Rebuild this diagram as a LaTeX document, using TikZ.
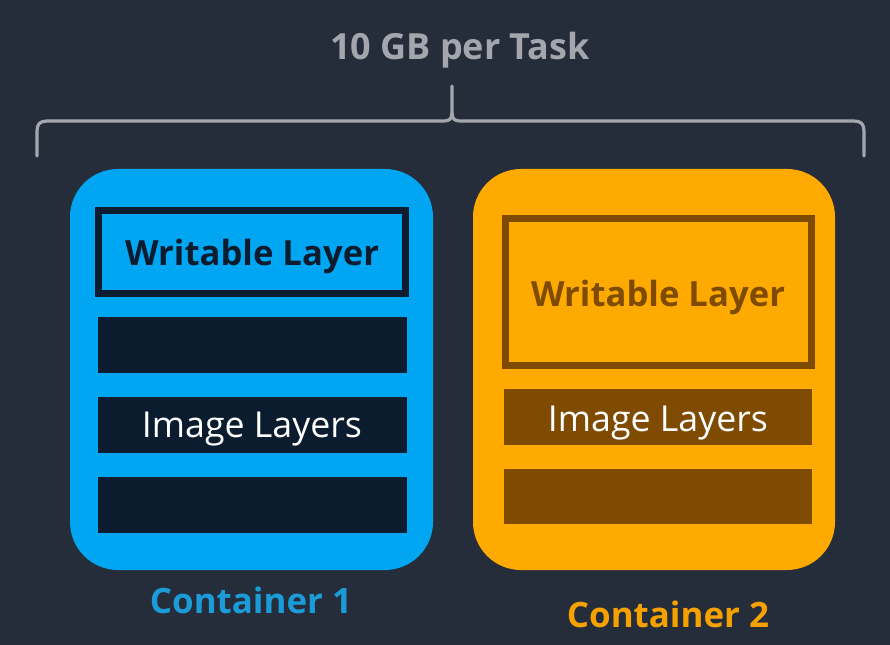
\documentclass[tikz,border=0pt]{standalone}
\usepackage{fontspec}
\setmainfont{Open Sans}
\definecolor{bgc}{HTML}{252D3B}
\definecolor{bluec}{HTML}{00A6F1}
\definecolor{bluelab}{HTML}{1B9BD8}
\definecolor{orangec}{HTML}{FFAA00}
\definecolor{orangelab}{HTML}{F5A200}
\definecolor{navyc}{HTML}{0C1C2F}
\definecolor{brownc}{HTML}{7E4B00}
\definecolor{greyc}{HTML}{A3A7AD}
\tikzset{
  px/.style={x=0.75pt,y=-0.75pt},
  contbox/.style={rounded corners=36pt},
  wtext/.style={font=\bfseries\fontsize{26}{30}\selectfont, anchor=base, inner sep=0pt},
  itext/.style={font=\fontsize{26.8}{30}\selectfont, anchor=base, inner sep=0pt, text=white},
  ltext/.style={font=\bfseries\fontsize{26.2}{30}\selectfont, anchor=base, inner sep=0pt},
  ttext/.style={font=\bfseries\fontsize{27}{32}\selectfont, anchor=base, inner sep=0pt, text=greyc},
}
\begin{document}
\begin{tikzpicture}[px]
\useasboundingbox (0,0) rectangle (890,645);
\fill[bgc] (0,0) rectangle (890,645);
% title
\node[ttext] (title) at (460,60) {10 GB per Task};
% brace
\draw[greyc, line width=2.4pt, line cap=round, line join=round]
  (37,156) -- (37,131) .. controls (37,124) and (40,121) .. (47,121)
  -- (444,121) .. controls (449,121) and (452,119) .. (452,113) -- (452,86);
\draw[greyc, line width=2.4pt, line cap=round, line join=round]
  (864,156) -- (864,131) .. controls (864,124) and (861,121) .. (854,121)
  -- (460,121) .. controls (455,121) and (452,119) .. (452,113);
% container 1
\fill[bluec, contbox] (70,169) rectangle (433,570);
\draw[navyc, line width=5.25pt, fill=bluec] (98.5,210.5) rectangle (405.5,293.5);
\node[wtext, text=navyc] (w1) at (252,266) {Writable Layer};
\fill[navyc] (98,317) rectangle (407,373);
\fill[navyc] (98,397) rectangle (407,453);
\fill[navyc] (98,477) rectangle (407,533);
\node[itext] (i1) at (252,438) {Image Layers};
\node[ltext, text=bluelab] (c1) at (251,613) {Container 1};
% container 2
\fill[orangec, contbox] (473,169) rectangle (835,570);
\draw[brownc, line width=4.9pt, fill=orangec] (505.5,218.5) rectangle (811.5,365.5);
\node[wtext, text=brownc] (w2) at (658,307) {Writable Layer};
\fill[brownc] (504,389) rectangle (812,445);
\fill[brownc] (504,469) rectangle (812,524);
\node[itext] (i2) at (658,432) {Image Layers};
\node[ltext, text=orangelab] (c2) at (668,627) {Container 2};
\end{tikzpicture}
\end{document}
